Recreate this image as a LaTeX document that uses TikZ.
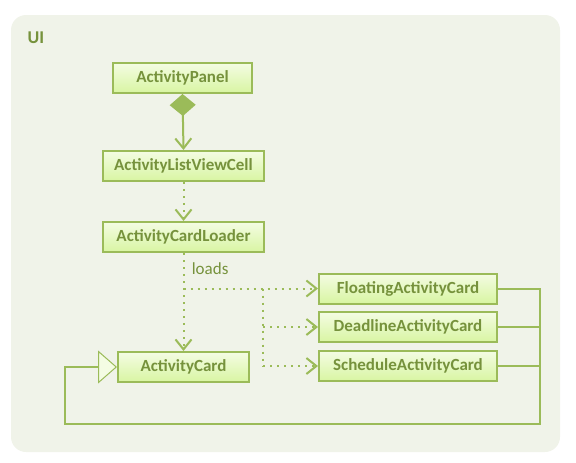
\documentclass[tikz,border=0pt]{standalone}
\usepackage{fontspec}
\setmainfont{Carlito}
\usetikzlibrary{arrows.meta, positioning}
\definecolor{umlline}{HTML}{9BBB59}
\definecolor{umltext}{HTML}{76923C}
\definecolor{umlback}{HTML}{F0F3E9}
\definecolor{umltop}{HTML}{F4FCE3}
\definecolor{umlbot}{HTML}{D8F5A2}

\begin{document}
\begin{tikzpicture}[x=1pt, y=-1pt, every node/.style={font=\fontsize{17}{20}\selectfont\bfseries, text=umltext}]
    % Define styles
    \tikzstyle{umlclass} = [rectangle, minimum height=30pt, inner sep=0pt, text centered, draw=umlline, line width=2pt, top color=umltop, bottom color=umlbot]
    \tikzstyle{comp_arrow} = [draw=umlline, line width=2pt, {Diamond[length=22pt, width=26pt, fill=umlline]}-{Straight Barb[length=10pt, width=16pt]}]
    \tikzstyle{dep_arrow} = [draw=umlline, line width=2pt, dash pattern=on 2pt off 5pt, -{Straight Barb[length=10pt, width=16pt]}]
    \tikzstyle{dep_line} = [draw=umlline, line width=2pt, dash pattern=on 2pt off 5pt]
    \tikzstyle{gen_arrow} = [draw=umlline, line width=2pt, -{Triangle[open, length=19pt, width=33pt, line width=1pt, fill=umltop]}]
    \tikzstyle{gen_line} = [draw=umlline, line width=2pt]

    \useasboundingbox (0,0) rectangle (576,463);

    % Package frame
    \fill[umlback, rounded corners=15pt] (11,15) rectangle (560,452);
    \node (pkg) [anchor=west, font=\fontsize{18}{21}\selectfont\bfseries] at (24,38) {UI};

    % Classes down the middle
    \node (panel) [umlclass, minimum width=139pt] at (182.5,78) {ActivityPanel};
    \node (list) [umlclass, minimum width=161pt] at (183.5,166) {ActivityListViewCell};
    \node (loader) [umlclass, minimum width=161pt] at (183.5,237) {ActivityCardLoader};
    \node (card) [umlclass, minimum width=131pt] at (183.5,367) {ActivityCard};

    % Card subclasses on the right
    \node (floating) [umlclass, minimum width=178pt] at (408,288.5) {FloatingActivityCard};
    \node (deadline) [umlclass, minimum width=178pt] at (408,327) {DeadlineActivityCard};
    \node (schedule) [umlclass, minimum width=178pt] at (408,366) {ScheduleActivityCard};

    % Junction points
    \coordinate (split) at (263,288.5);
    \coordinate (bus) at (540,424);
    \coordinate (busleft) at (65,424);

    % Composition and dependencies
    \draw [comp_arrow] (panel.south) -- (list.north);
    \draw [dep_arrow] (list.south) -- (loader.north);
    \draw [dep_arrow] (loader.south) -- node[pos=0.16, right=4pt, font=\fontsize{17}{20}\selectfont] (loads) {loads} (card.north);
    \draw [dep_arrow] (loader.south |- floating.west) -- (floating.west);
    \draw [dep_line] (split) -- (split |- schedule.west);
    \draw [dep_arrow] (split |- deadline.west) -- (deadline.west);
    \draw [dep_arrow] (split |- schedule.west) -- (schedule.west);

    % Generalization to ActivityCard
    \draw [gen_line] (deadline.east) -- (deadline.east -| bus);
    \draw [gen_line] (schedule.east) -- (schedule.east -| bus);
    \draw [gen_arrow] (floating.east) -| (bus) -- (busleft) |- (card.west);
\end{tikzpicture}
\end{document}
